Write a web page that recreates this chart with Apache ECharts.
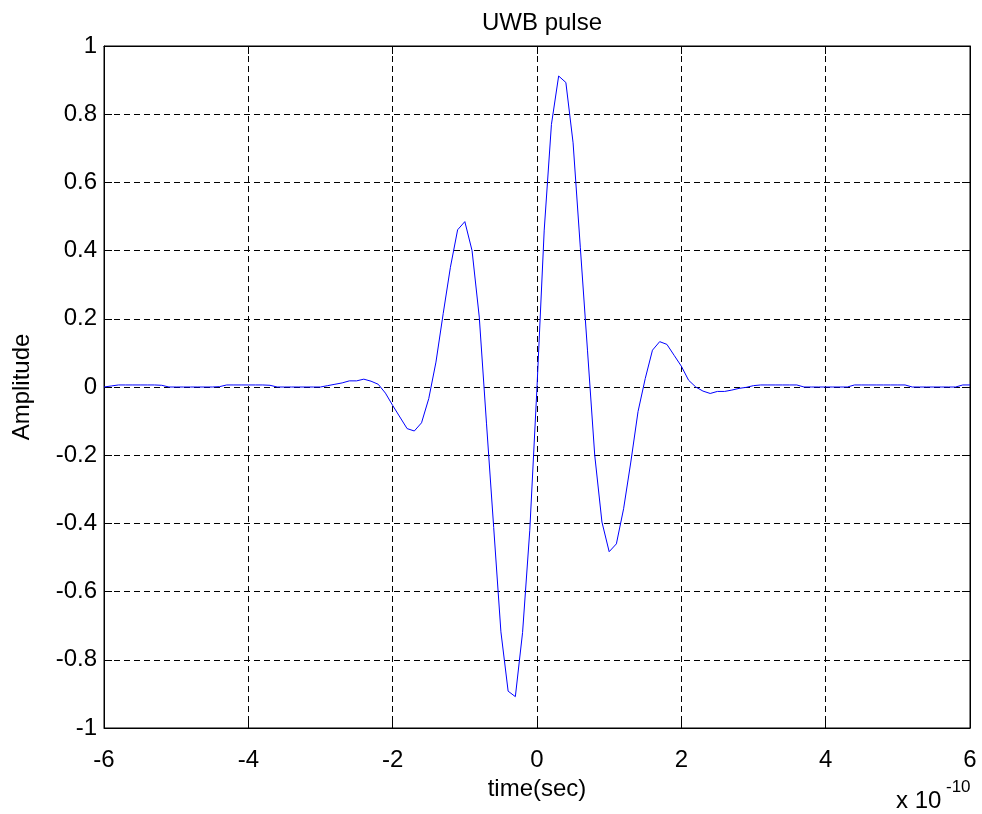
<!DOCTYPE html>
<html>
<head>
<meta charset="utf-8">
<title>UWB pulse</title>
<script src="https://cdn.jsdelivr.net/npm/echarts@6/dist/echarts.min.js"></script>
<style>
  html, body { margin: 0; padding: 0; background: #fff; }
  #chart { width: 982px; height: 814px; }
</style>
</head>
<body>
<div id="chart"></div>
<script>
// Sample instants (units of 1e-10 s)
const timeSamples = [
  -6.0, -5.9, -5.8, -5.7, -5.6, -5.5, -5.4, -5.3, -5.2, -5.1,
  -5.0, -4.9, -4.8, -4.7, -4.6, -4.5, -4.4, -4.3, -4.2, -4.1,
  -4.0, -3.9, -3.8, -3.7, -3.6, -3.5, -3.4, -3.3, -3.2, -3.1,
  -3.0, -2.9, -2.8, -2.7, -2.6, -2.5, -2.4, -2.3, -2.2, -2.1,
  -2.0, -1.9, -1.8, -1.7, -1.6, -1.5, -1.4, -1.3, -1.2, -1.1,
  -1.0, -0.9, -0.8, -0.7, -0.6, -0.5, -0.4, -0.3, -0.2, -0.1,
   0.0,  0.1,  0.2,  0.3,  0.4,  0.5,  0.6,  0.7,  0.8,  0.9,
   1.0,  1.1,  1.2,  1.3,  1.4,  1.5,  1.6,  1.7,  1.8,  1.9,
   2.0,  2.1,  2.2,  2.3,  2.4,  2.5,  2.6,  2.7,  2.8,  2.9,
   3.0,  3.1,  3.2,  3.3,  3.4,  3.5,  3.6,  3.7,  3.8,  3.9,
   4.0,  4.1,  4.2,  4.3,  4.4,  4.5,  4.6,  4.7,  4.8,  4.9,
   5.0,  5.1,  5.2,  5.3,  5.4,  5.5,  5.6,  5.7,  5.8,  5.9,
   6.0
];

// Pulse amplitude at each sample
const amplitude = [
  0.000, 0.003, 0.006, 0.006, 0.006, 0.006, 0.006, 0.006, 0.005, 0.000,
  0.000, 0.000, 0.000, 0.000, 0.000, 0.000, 0.001, 0.006, 0.006, 0.006,
  0.006, 0.006, 0.006, 0.005, 0.000, 0.000, 0.000, 0.000, 0.000, 0.000,
  0.000, 0.004, 0.008, 0.012, 0.018, 0.018, 0.023, 0.017, 0.008, -0.018,
  -0.054, -0.088, -0.122, -0.129, -0.105, -0.034, 0.073, 0.215, 0.351, 0.461,
  0.485, 0.400, 0.205, -0.106, -0.412, -0.718, -0.892, -0.908, -0.720, -0.420,
  0.000, 0.460, 0.770, 0.912, 0.893, 0.716, 0.410, 0.106, -0.200, -0.396,
  -0.483, -0.460, -0.357, -0.220, -0.072, 0.025, 0.108, 0.133, 0.125, 0.093,
  0.061, 0.020, 0.000, -0.012, -0.019, -0.013, -0.013, -0.009, -0.004, -0.001,
  0.004, 0.006, 0.006, 0.006, 0.006, 0.006, 0.006, 0.000, 0.000, 0.000,
  0.000, 0.000, 0.000, 0.000, 0.006, 0.006, 0.006, 0.006, 0.006, 0.006,
  0.006, 0.006, 0.000, 0.000, 0.000, 0.000, 0.000, 0.000, 0.000, 0.006,
  0.006
];

const xTicks = { min: -6, max: 6, step: 2 };
const yTicks = { min: -1, max: 1, step: 0.2 };

const FONT = "'Liberation Sans', Arial, Helvetica, sans-serif";
const chart = echarts.init(document.getElementById('chart'), null, { renderer: 'canvas' });

const gridLine = { show: true, lineStyle: { color: '#000', width: 1, type: [6, 4] } };
const tickIn = { show: true, inside: true, length: 8, lineStyle: { color: '#000', width: 1 } };
const axisLineBlack = { show: true, onZero: false, lineStyle: { color: '#000', width: 1 } };

const points = timeSamples.map((t, i) => [t, amplitude[i]]);

chart.setOption({
  backgroundColor: '#fff',
  animation: false,
  title: {
    text: 'UWB pulse',
    left: 537,
    textAlign: 'center',
    top: 6,
    textStyle: { fontFamily: FONT, fontSize: 24, fontWeight: 'normal', color: '#000' }
  },
  grid: {
    left: 104, right: 12, top: 46, bottom: 86,
    show: true, borderColor: '#000', borderWidth: 1
  },
  xAxis: [
    {
      type: 'value', position: 'bottom',
      min: xTicks.min, max: xTicks.max, interval: xTicks.step,
      name: 'time(sec)', nameLocation: 'middle', nameGap: 46,
      nameTextStyle: { fontFamily: FONT, fontSize: 24, color: '#000' },
      axisLine: axisLineBlack, axisTick: tickIn, splitLine: gridLine,
      axisLabel: { fontFamily: FONT, fontSize: 24, color: '#000', margin: 20 }
    },
    {
      type: 'value', position: 'top',
      min: xTicks.min, max: xTicks.max, interval: xTicks.step,
      axisLine: axisLineBlack, axisTick: tickIn,
      splitLine: { show: false }, axisLabel: { show: false }
    }
  ],
  yAxis: [
    {
      type: 'value', position: 'left',
      min: yTicks.min, max: yTicks.max, interval: yTicks.step,
      name: 'Amplitude', nameLocation: 'middle', nameGap: 70,
      nameTextStyle: { fontFamily: FONT, fontSize: 24, color: '#000' },
      axisLine: axisLineBlack, axisTick: tickIn, splitLine: gridLine,
      axisLabel: {
        fontFamily: FONT, fontSize: 24, color: '#000', margin: 7,
        formatter: v => String(Math.round(v * 10) / 10)
      }
    },
    {
      type: 'value', position: 'right',
      min: yTicks.min, max: yTicks.max, interval: yTicks.step,
      axisLine: axisLineBlack, axisTick: tickIn,
      splitLine: { show: false }, axisLabel: { show: false }
    }
  ],
  graphic: [
    {
      type: 'text', left: 896, top: 789,
      style: { text: 'x 10', fontFamily: FONT, fontSize: 24, fill: '#000' }
    },
    {
      type: 'text', left: 946, top: 779,
      style: { text: '-10', fontFamily: FONT, fontSize: 17, fill: '#000' }
    }
  ],
  series: [
    {
      type: 'line',
      xAxisIndex: 0, yAxisIndex: 0,
      data: points,
      showSymbol: false,
      smooth: false,
      lineStyle: { color: '#0000ff', width: 1 },
      itemStyle: { color: '#0000ff' }
    }
  ]
});
</script>
</body>
</html>
